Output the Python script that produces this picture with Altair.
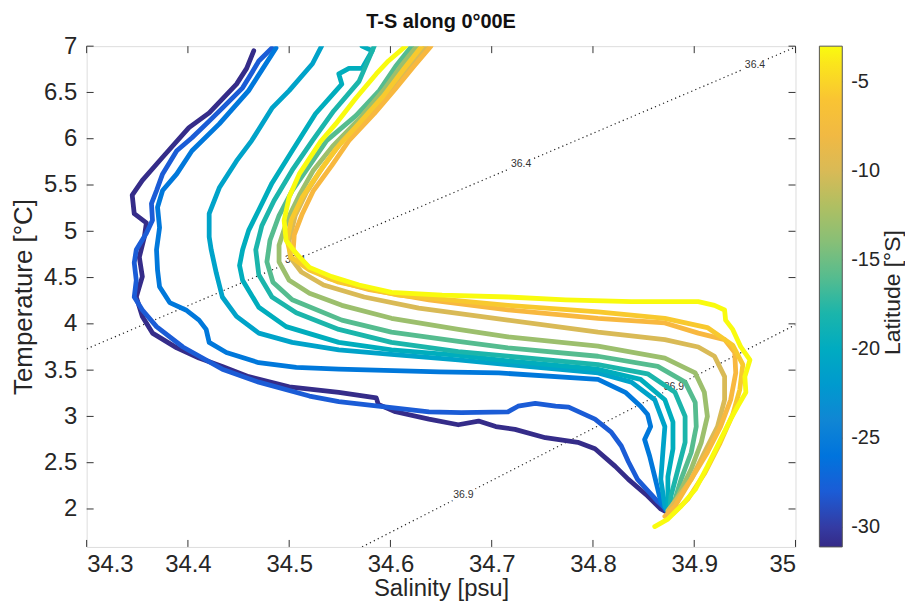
import altair as alt
import pandas as pd

# ---------------- data (salinity psu, temperature degC) -----------------
LATS = [-31, -28, -25.5, -21, -19.5, -18, -16, -13, -10, -7.5, -5.5, -3]

S_A = [34.465, 34.458, 34.448, 34.421, 34.401, 34.375, 34.355, 34.345, 34.347, 34.359, 34.357, 34.352, 34.355, 34.349,
       34.355, 34.365, 34.389, 34.411, 34.434, 34.460, 34.500, 34.549, 34.586, 34.588, 34.605, 34.638, 34.667, 34.687,
       34.704, 34.723, 34.753, 34.785, 34.802, 34.822, 34.835, 34.854, 34.867, 34.872]
T_A = [6.95, 6.76, 6.59, 6.28, 6.12, 5.80, 5.55, 5.39, 5.19, 5.09, 4.94, 4.72, 4.51, 4.29,
       4.08, 3.90, 3.74, 3.63, 3.54, 3.43, 3.32, 3.26, 3.20, 3.13, 3.05, 2.97, 2.91, 2.95,
       2.89, 2.86, 2.77, 2.72, 2.65, 2.46, 2.32, 2.14, 2.00, 1.97]

S_B = [34.483, 34.470, 34.463, 34.454, 34.434, 34.421, 34.404, 34.389, 34.375, 34.369, 34.364, 34.365, 34.359, 34.349,
       34.347, 34.349, 34.347, 34.355, 34.369, 34.395, 34.434, 34.470, 34.520, 34.549, 34.588, 34.638, 34.670, 34.716,
       34.726, 34.743, 34.763, 34.776, 34.802, 34.818, 34.828, 34.835, 34.844, 34.864, 34.874]
T_B = [6.98, 6.84, 6.71, 6.55, 6.33, 6.19, 6.01, 5.87, 5.62, 5.44, 5.30, 5.12, 4.98, 4.80,
       4.66, 4.47, 4.29, 4.15, 3.97, 3.75, 3.51, 3.37, 3.22, 3.16, 3.11, 3.05, 3.04, 3.05,
       3.11, 3.14, 3.11, 3.10, 2.97, 2.83, 2.68, 2.51, 2.32, 2.08, 1.98]

S_C = [34.487, 34.460, 34.431, 34.404, 34.389, 34.375, 34.370, 34.372, 34.369, 34.370, 34.372, 34.382, 34.398, 34.411,
       34.418, 34.421, 34.438, 34.470, 34.507, 34.549, 34.648, 34.707, 34.805, 34.832, 34.847, 34.854, 34.857, 34.851,
       34.856, 34.861, 34.867, 34.872]
T_C = [6.98, 6.52, 6.16, 5.87, 5.62, 5.44, 5.26, 5.04, 4.80, 4.58, 4.40, 4.23, 4.15, 4.04,
       3.94, 3.80, 3.69, 3.58, 3.53, 3.51, 3.48, 3.47, 3.40, 3.26, 3.11, 3.02, 2.89, 2.75,
       2.57, 2.35, 2.08, 1.99]

S_D = [34.532, 34.523, 34.500, 34.483, 34.463, 34.448, 34.431, 34.421, 34.421, 34.423, 34.428, 34.434, 34.448, 34.470,
       34.503, 34.549, 34.601, 34.667, 34.716, 34.805, 34.838, 34.861, 34.871, 34.869, 34.867, 34.871, 34.874]
T_D = [7.00, 6.81, 6.52, 6.33, 5.98, 5.76, 5.47, 5.19, 4.94, 4.80, 4.55, 4.29, 4.08, 3.90,
       3.80, 3.72, 3.67, 3.61, 3.56, 3.47, 3.37, 3.18, 2.89, 2.61, 2.32, 2.03, 1.98]

S_E = [34.572, 34.582, 34.572, 34.559, 34.549, 34.552, 34.526, 34.503, 34.483, 34.470, 34.460, 34.454, 34.451, 34.454,
       34.470, 34.497, 34.549, 34.601, 34.667, 34.716, 34.805, 34.847, 34.871, 34.879, 34.879, 34.874, 34.874, 34.875]
T_E = [7.00, 6.95, 6.76, 6.76, 6.70, 6.59, 6.27, 5.87, 5.52, 5.23, 5.01, 4.80, 4.63, 4.47,
       4.18, 3.97, 3.80, 3.72, 3.66, 3.60, 3.51, 3.40, 3.18, 2.94, 2.65, 2.35, 2.08, 1.98]

S_F = [34.584, 34.569, 34.544, 34.523, 34.503, 34.485, 34.473, 34.467, 34.470, 34.483, 34.507, 34.549, 34.601, 34.667,
       34.716, 34.805, 34.854, 34.881, 34.891, 34.891, 34.884, 34.877, 34.876]
T_F = [7.00, 6.62, 6.30, 5.98, 5.66, 5.33, 5.06, 4.80, 4.53, 4.29, 4.12, 3.94, 3.80, 3.70,
       3.65, 3.56, 3.46, 3.26, 3.00, 2.72, 2.43, 2.14, 2.00]

S_G = [34.621, 34.605, 34.589, 34.566, 34.537, 34.520, 34.503, 34.490, 34.481, 34.478, 34.484, 34.503, 34.552, 34.601,
       34.667, 34.716, 34.805, 34.864, 34.891, 34.901, 34.902, 34.897, 34.887, 34.879, 34.876]
T_G = [7.00, 6.78, 6.52, 6.25, 5.98, 5.71, 5.44, 5.17, 4.90, 4.67, 4.45, 4.26, 4.04, 3.91,
       3.81, 3.74, 3.65, 3.54, 3.37, 3.15, 2.89, 2.61, 2.32, 2.03, 1.98]

S_H = [34.626, 34.610, 34.593, 34.569, 34.543, 34.524, 34.510, 34.498, 34.490, 34.490, 34.500, 34.520, 34.552, 34.601,
       34.667, 34.716, 34.805, 34.871, 34.901, 34.910, 34.913, 34.907, 34.897, 34.884, 34.877]
T_H = [7.00, 6.78, 6.52, 6.21, 5.92, 5.66, 5.39, 5.12, 4.85, 4.67, 4.47, 4.33, 4.20, 4.06,
       3.94, 3.86, 3.76, 3.63, 3.47, 3.26, 3.00, 2.72, 2.43, 2.14, 2.00]

S_I = [34.635, 34.618, 34.600, 34.577, 34.552, 34.533, 34.517, 34.506, 34.500, 34.501, 34.512, 34.534, 34.574, 34.628,
       34.716, 34.805, 34.871, 34.904, 34.920, 34.930, 34.930, 34.923, 34.910, 34.897, 34.881, 34.874]
T_I = [7.00, 6.78, 6.52, 6.25, 5.97, 5.69, 5.42, 5.17, 4.90, 4.72, 4.56, 4.42, 4.29, 4.17,
       4.04, 3.91, 3.83, 3.75, 3.65, 3.43, 3.18, 2.89, 2.61, 2.32, 2.08, 1.98]

S_J = [34.640, 34.623, 34.605, 34.584, 34.559, 34.542, 34.524, 34.513, 34.505, 34.504, 34.515, 34.539, 34.579, 34.638,
       34.716, 34.805, 34.871, 34.904, 34.930, 34.940, 34.941, 34.936, 34.926, 34.913, 34.897, 34.881, 34.871]
T_J = [7.00, 6.78, 6.54, 6.27, 5.98, 5.71, 5.44, 5.19, 4.96, 4.80, 4.63, 4.49, 4.37, 4.26,
       4.15, 4.06, 4.01, 3.90, 3.83, 3.69, 3.47, 3.18, 2.89, 2.61, 2.32, 2.03, 1.92]

S_K = [34.631, 34.613, 34.593, 34.571, 34.547, 34.529, 34.513, 34.502, 34.498, 34.502, 34.520, 34.549, 34.608, 34.716,
       34.805, 34.871, 34.913, 34.938, 34.948, 34.945, 34.938, 34.925, 34.910, 34.894, 34.879]
T_K = [7.00, 6.75, 6.46, 6.19, 5.90, 5.63, 5.37, 5.12, 4.90, 4.72, 4.58, 4.45, 4.31, 4.20,
       4.13, 4.06, 3.96, 3.77, 3.56, 3.29, 3.02, 2.70, 2.38, 2.11, 1.95]

S_L = [34.615, 34.598, 34.586, 34.566, 34.546, 34.531, 34.510, 34.500, 34.495, 34.497, 34.507, 34.520, 34.542, 34.569,
       34.601, 34.651, 34.716, 34.773, 34.838, 34.904, 34.920, 34.930, 34.931, 34.938, 34.946, 34.955, 34.950, 34.951,
       34.943, 34.936, 34.926, 34.913, 34.901, 34.887, 34.874, 34.861]
T_L = [7.00, 6.84, 6.70, 6.44, 6.16, 5.97, 5.62, 5.37, 5.12, 4.90, 4.76, 4.61, 4.51, 4.42,
       4.34, 4.31, 4.29, 4.26, 4.24, 4.24, 4.20, 4.15, 4.04, 3.94, 3.75, 3.61, 3.43, 3.26,
       3.11, 2.97, 2.75, 2.46, 2.21, 2.03, 1.89, 1.81]

PROFILES = [(S_A, T_A), (S_B, T_B), (S_C, T_C), (S_D, T_D), (S_E, T_E), (S_F, T_F),
            (S_G, T_G), (S_H, T_H), (S_I, T_I), (S_J, T_J), (S_K, T_K), (S_L, T_L)]

# isopycnals (end points) and their labels
ISO_ID = [0, 0, 1, 1]
ISO_S = [34.300, 35.000, 34.572, 35.000]
ISO_T = [3.73, 6.99, 1.59, 3.99]
LAB_TEXT = ["36.4", "36.4", "36.4", "36.9", "36.9"]
LAB_S = [34.506, 34.729, 34.960, 34.672, 34.880]
LAB_T = [4.69, 5.73, 6.80, 2.15, 3.32]
LAB_ANGLE = [337, 337, 337, 333, 333]

X_TICKS = [34.3, 34.4, 34.5, 34.6, 34.7, 34.8, 34.9, 35.0]
Y_TICKS = [2, 2.5, 3, 3.5, 4, 4.5, 5, 5.5, 6, 6.5, 7]
CB_TICKS = [-30, -25, -20, -15, -10, -5]
CB_TITLE = ["Latitude [°S]"]

# parula-like colour map
PAR_F = [0.0, 0.125, 0.25, 0.375, 0.5, 0.625, 0.75, 0.84, 0.92, 1.0]
PAR_C = ["#352a87", "#0363e1", "#1485d4", "#06a7c6", "#38b99e", "#92bf73",
         "#d9ba56", "#f8b83f", "#f8cb2c", "#f9fb0e"]
LAT_MIN, LAT_MAX = -31.1, -3.0

# ---------------- build tables -----------------
rows = []
for k, (lat, (S, T)) in enumerate(zip(LATS, PROFILES)):
    for i, (s, t) in enumerate(zip(S, T)):
        rows.append({"station": k, "lat": lat, "s": s, "t": t, "i": i})
df = pd.DataFrame(rows)

iso = pd.DataFrame({"id": ISO_ID, "s": ISO_S, "t": ISO_T, "i": [0, 1, 0, 1]})
lab = pd.DataFrame({"txt": LAB_TEXT, "s": LAB_S, "t": LAB_T, "ang": LAB_ANGLE})
xt = pd.DataFrame({"s": X_TICKS})
yt = pd.DataFrame({"t": Y_TICKS})
cbt = pd.DataFrame({"txt": CB_TITLE})
cbk = pd.DataFrame({"v": CB_TICKS})

W, H = 712, 503
FONT = "Liberation Sans"
TXT = "#262626"
CB_OFF, CB_W = 24, 23

xs = alt.Scale(domain=[34.3, 35.0], nice=False, zero=False)
ys = alt.Scale(domain=[1.59, 7.0], nice=False, zero=False)
cs = alt.Scale(domain=[LAT_MIN + f * (LAT_MAX - LAT_MIN) for f in PAR_F], range=PAR_C)

iso_lines = alt.Chart(iso).mark_line(
    color="#222222", strokeWidth=1.2, strokeDash=[1.2, 3.2], clip=True
).encode(
    x=alt.X("s:Q", scale=xs, axis=alt.Axis(
        values=X_TICKS, format=".1~f", title="Salinity [psu]", grid=False, ticks=False,
        domain=False, labelFontSize=24, titleFontSize=24, labelColor=TXT,
        titleColor=TXT, labelPadding=6, titlePadding=0, labelFont=FONT, titleFont=FONT,
        titleFontWeight="normal")),
    y=alt.Y("t:Q", scale=ys, axis=alt.Axis(
        values=Y_TICKS, format=".1~f", title="Temperature [°C]", grid=False, ticks=False,
        domain=False, labelFontSize=24, titleFontSize=26, labelColor=TXT,
        titleColor=TXT, labelPadding=10, titlePadding=7, labelFont=FONT, titleFont=FONT,
        titleFontWeight="normal")),
    detail="id:N",
    order="i:Q",
)

lab_mask = alt.Chart(lab).mark_text(
    fontSize=10.5, font=FONT, stroke="white", strokeWidth=7, fill="white"
).encode(x=alt.X("s:Q", scale=xs), y=alt.Y("t:Q", scale=ys), text="txt:N", angle="ang:Q")

lab_text = alt.Chart(lab).mark_text(
    fontSize=10.5, font=FONT, color="#333333"
).encode(x=alt.X("s:Q", scale=xs), y=alt.Y("t:Q", scale=ys), text="txt:N", angle="ang:Q")

profiles = alt.Chart(df).mark_line(
    strokeWidth=4.8, strokeCap="round", strokeJoin="round", clip=True
).encode(
    x=alt.X("s:Q", scale=xs),
    y=alt.Y("t:Q", scale=ys),
    color=alt.Color("lat:Q", scale=cs, legend=alt.Legend(
        title=None, values=CB_TICKS, gradientLength=H, gradientThickness=CB_W,
        orient="right", offset=CB_OFF, padding=0,
        labelExpr="datum.value < 0 ? '-' + abs(datum.value) : '' + datum.value",
        labelFontSize=20, labelFont=FONT, labelColor=TXT, labelOffset=9,
        gradientStrokeColor="#555555", gradientStrokeWidth=1)),
    detail="station:N",
    order="i:Q",
)

cb_title = alt.Chart(cbt).mark_text(
    fontSize=23, font=FONT, color=TXT, angle=270, baseline="middle", align="center"
).encode(text="txt:N", x=alt.value(W + 98), y=alt.value(H / 2 - 4))

tick_style = dict(color="#333333", strokeWidth=1)
xb = alt.Chart(xt).mark_rule(**tick_style).encode(x=alt.X("s:Q", scale=xs), y=alt.value(H), y2=alt.value(H - 7))
xtp = alt.Chart(xt).mark_rule(**tick_style).encode(x=alt.X("s:Q", scale=xs), y=alt.value(0), y2=alt.value(7))
yl = alt.Chart(yt).mark_rule(**tick_style).encode(y=alt.Y("t:Q", scale=ys), x=alt.value(0), x2=alt.value(7))
yr = alt.Chart(yt).mark_rule(**tick_style).encode(y=alt.Y("t:Q", scale=ys), x=alt.value(W), x2=alt.value(W - 7))

main = alt.layer(iso_lines, lab_mask, lab_text, profiles, xb, xtp, yl, yr, cb_title)

# small inward ticks on the colour bar
cb_ticks = alt.Chart(cbk).mark_rule(color="#555555", strokeWidth=1).encode(
    y=alt.Y("v:Q", scale=alt.Scale(domain=[LAT_MIN, LAT_MAX], range=[H, 0], nice=False, zero=False), axis=None),
    x=alt.value(W + CB_OFF + CB_W - 5), x2=alt.value(W + CB_OFF + CB_W),
)

chart = alt.layer(main, cb_ticks).resolve_scale(y="independent").properties(
    width=W, height=H,
    title=alt.TitleParams("T-S along 0°00E", fontSize=20, font=FONT, fontWeight="bold",
                          color="#111111", anchor="middle", offset=2),
    autosize=alt.AutoSizeParams(type="none"),
    padding={"left": 79, "top": 37, "right": 110, "bottom": 56},
).configure_view(stroke="#555555", strokeWidth=1.2).configure(background="white")

chart.save("out.html", embed_options={"renderer": "svg", "actions": False})
